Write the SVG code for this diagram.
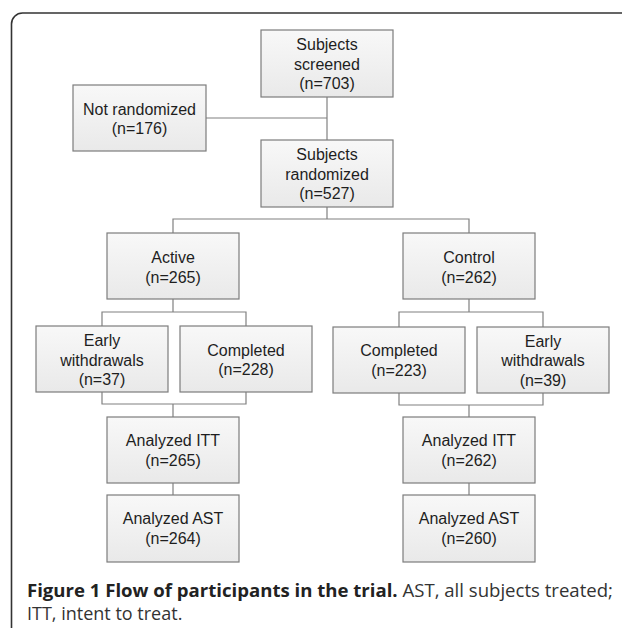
<svg xmlns="http://www.w3.org/2000/svg" width="622" height="630" viewBox="0 0 622 630">
<defs>
<linearGradient id="g" x1="0" y1="0" x2="0" y2="1">
<stop offset="0" stop-color="#f8f8f8"/>
<stop offset="1" stop-color="#e9e9e9"/>
</linearGradient>
<style>
.box{fill:url(#g);stroke:#7c7c7c;stroke-width:1.2}
.t{font-family:"Liberation Sans",Arial,sans-serif;font-size:16px;fill:#1e1e1e;text-anchor:middle}
.c{fill:none;stroke:#808080;stroke-width:1.2}
.cap{font-family:"Open Sans","Noto Sans",sans-serif;font-size:18px;fill:#333}
</style>
</defs>
<rect width="622" height="630" fill="#fff"/>
<path d="M11.5,628 V24 A11,11 0 0 1 22.5,13 H640" fill="none" stroke="#333" stroke-width="1.6"/>
<g id="connectors" class="c">
<path d="M327,97 V140"/>
<path d="M206,118 H327"/>
<path d="M327,207 V219 M173,233 V219 H469 V233"/>
<path d="M173,299 V312 M102,326 V312 H246 V326"/>
<path d="M469,299 V312 M399,327 V312 H543 V327"/>
<path d="M102,392 V404 H246 V392 M173,404 V417"/>
<path d="M399,393 V405 H543 V393 M469,405 V417"/>
<path d="M173,483 V495"/>
<path d="M469,483 V495"/>
</g>
<g id="screened"><rect class="box" x="261" y="30" width="132" height="67"/>
<text class="t" x="327" y="50">Subjects</text><text class="t" x="327" y="69.5">screened</text><text class="t" x="327" y="89">(n=703)</text></g>
<g id="notrandomized"><rect class="box" x="73" y="85" width="133" height="66"/>
<text class="t" x="139.5" y="115">Not randomized</text><text class="t" x="139.5" y="134">(n=176)</text></g>
<g id="randomized"><rect class="box" x="261" y="140" width="132" height="67"/>
<text class="t" x="327" y="160">Subjects</text><text class="t" x="327" y="179.5">randomized</text><text class="t" x="327" y="199">(n=527)</text></g>
<g id="active"><rect class="box" x="107" y="233" width="132" height="66"/>
<text class="t" x="173" y="263">Active</text><text class="t" x="173" y="283">(n=265)</text></g>
<g id="control"><rect class="box" x="403" y="233" width="132" height="66"/>
<text class="t" x="469" y="263">Control</text><text class="t" x="469" y="283">(n=262)</text></g>
<g id="early1"><rect class="box" x="36" y="326" width="132" height="66"/>
<text class="t" x="102" y="346">Early</text><text class="t" x="102" y="365.5">withdrawals</text><text class="t" x="102" y="385">(n=37)</text></g>
<g id="completed1"><rect class="box" x="180" y="326" width="132" height="66"/>
<text class="t" x="246" y="355.5">Completed</text><text class="t" x="246" y="375">(n=228)</text></g>
<g id="completed2"><rect class="box" x="333" y="327" width="132" height="66"/>
<text class="t" x="399" y="356">Completed</text><text class="t" x="399" y="375.5">(n=223)</text></g>
<g id="early2"><rect class="box" x="477" y="327" width="132" height="66"/>
<text class="t" x="543" y="347">Early</text><text class="t" x="543" y="366">withdrawals</text><text class="t" x="543" y="386">(n=39)</text></g>
<g id="itt1"><rect class="box" x="107" y="417" width="132" height="66"/>
<text class="t" x="173" y="446">Analyzed ITT</text><text class="t" x="173" y="466">(n=265)</text></g>
<g id="itt2"><rect class="box" x="403" y="417" width="132" height="66"/>
<text class="t" x="469" y="446">Analyzed ITT</text><text class="t" x="469" y="466">(n=262)</text></g>
<g id="ast1"><rect class="box" x="107" y="495" width="132" height="67"/>
<text class="t" x="173" y="524">Analyzed AST</text><text class="t" x="173" y="544">(n=264)</text></g>
<g id="ast2"><rect class="box" x="403" y="495" width="132" height="67"/>
<text class="t" x="469" y="524">Analyzed AST</text><text class="t" x="469" y="544">(n=260)</text></g>
<g id="caption">
<text class="cap" x="27" y="597" textLength="586" lengthAdjust="spacingAndGlyphs"><tspan font-weight="bold" fill="#222">Figure 1 Flow of participants in the trial.</tspan> AST, all subjects treated;</text>
<text class="cap" x="27" y="620">ITT, intent to treat.</text>
</g>
</svg>
